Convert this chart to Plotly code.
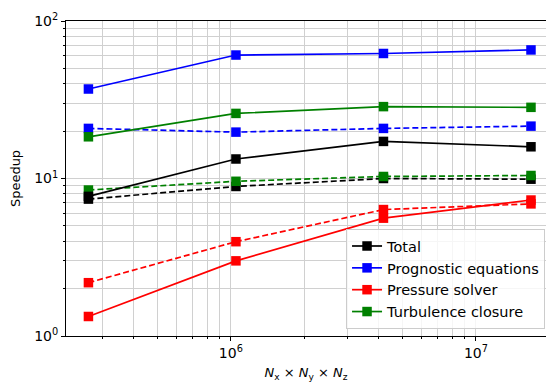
import plotly.graph_objects as go

grid_sizes = [262144, 1048576, 4194304, 16777216]

total_solid = [7.7, 13.3, 17.2, 15.9]
total_dashed = [7.4, 8.9, 10.0, 9.9]
prog_solid = [37.0, 60.8, 62.2, 65.5]
prog_dashed = [20.8, 19.7, 20.8, 21.5]
press_solid = [1.33, 3.0, 5.6, 7.3]
press_dashed = [2.18, 3.97, 6.35, 6.9]
turb_solid = [18.4, 25.9, 28.6, 28.3]
turb_dashed = [8.45, 9.6, 10.3, 10.45]

names = ["Total", "Prognostic equations", "Pressure solver", "Turbulence closure"]
colors = ["black", "blue", "red", "green"]
solids = [total_solid, prog_solid, press_solid, turb_solid]
dasheds = [total_dashed, prog_dashed, press_dashed, turb_dashed]

fig = go.Figure()
for name, c, ys in zip(names, colors, dasheds):
    fig.add_trace(go.Scatter(x=grid_sizes, y=ys, mode="lines+markers", showlegend=False,
                             line=dict(color=c, width=1.7, dash="6px,3px"),
                             marker=dict(symbol="square", size=9.5, color=c)))
for name, c, ys in zip(names, colors, solids):
    fig.add_trace(go.Scatter(x=grid_sizes, y=ys, mode="lines+markers", name=name,
                             line=dict(color=c, width=1.7),
                             marker=dict(symbol="square", size=9.5, color=c)))

xminor = [m * 10 ** k for k in (5, 6, 7) for m in range(2, 10)]
yminor = [m * 10 ** k for k in (0, 1) for m in range(2, 10)]

gc = "#d0d0d0"
fig.update_xaxes(type="log", range=[5.327, 7.286],
                 tickvals=[1e6, 1e7], ticktext=["10<sup>6</sup>", "10<sup>7</sup>"],
                 ticks="outside", ticklen=4, tickcolor="black",
                 showline=True, linecolor="black", linewidth=1, mirror=True,
                 showgrid=True, gridcolor=gc, gridwidth=1, zeroline=False,
                 minor=dict(tickvals=xminor, ticks="outside", ticklen=2, tickcolor="black",
                            showgrid=True, gridcolor=gc, gridwidth=1),
                 title=dict(text="<i>N</i><sub>x</sub> × <i>N</i><sub>y</sub> × <i>N</i><sub>z</sub>",
                            font=dict(size=13, color="black"), standoff=10),
                 tickfont=dict(size=14, color="black"), automargin=False)
fig.update_yaxes(type="log", range=[0, 2],
                 tickvals=[1, 10, 100], ticktext=["10<sup>0</sup>", "10<sup>1</sup>", "10<sup>2</sup>"],
                 ticks="outside", ticklen=4, tickcolor="black",
                 showline=True, linecolor="black", linewidth=1,
                 showgrid=True, gridcolor=gc, gridwidth=1, zeroline=False,
                 minor=dict(tickvals=yminor, ticks="outside", ticklen=2, tickcolor="black",
                            showgrid=True, gridcolor=gc, gridwidth=1),
                 title=dict(text="Speedup", font=dict(size=13, color="black"), standoff=10),
                 tickfont=dict(size=14, color="black"), automargin=False)

fig.update_layout(width=546, height=382, margin=dict(l=66, r=0, t=21, b=46),
                  plot_bgcolor="white", paper_bgcolor="white",
                  font=dict(family="DejaVu Sans", size=13, color="black"),
                  legend=dict(x=0.998, y=0.022, xanchor="right", yanchor="bottom",
                              bgcolor="rgba(255,255,255,0.8)", bordercolor="#cccccc", borderwidth=1,
                              font=dict(size=14.5), tracegroupgap=0, itemwidth=30))

fig.write_html("out.html")
